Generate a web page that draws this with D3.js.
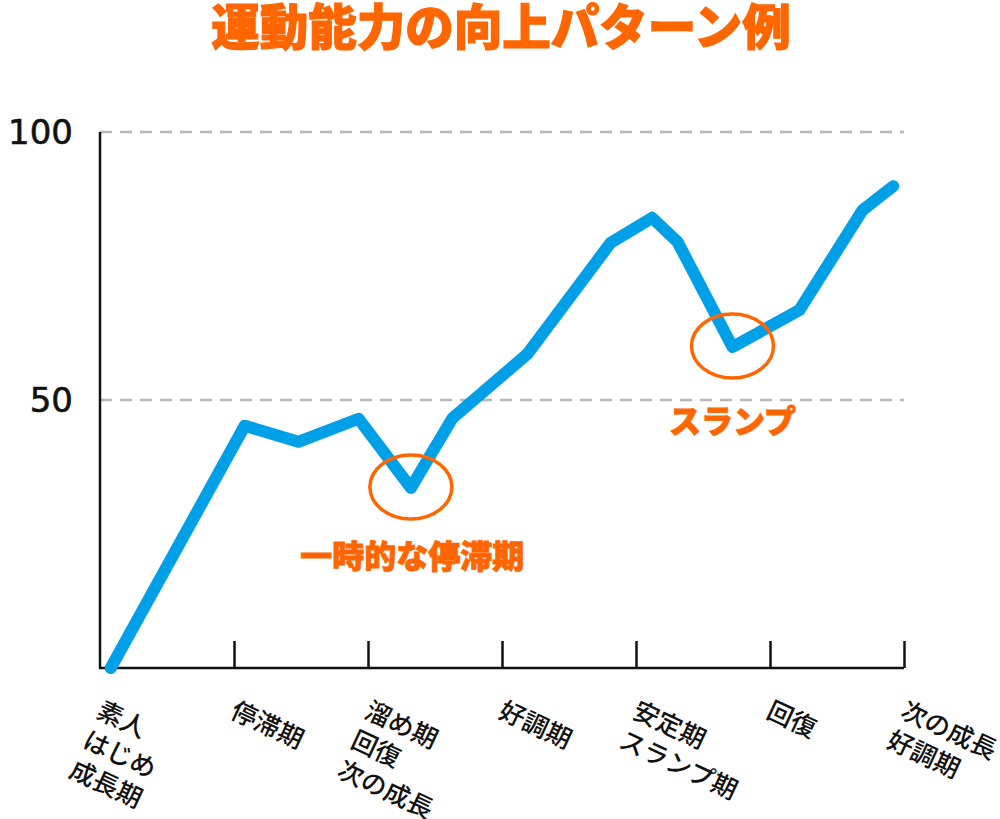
<!DOCTYPE html>
<html>
<head>
<meta charset="utf-8">
<script src="https://cdn.jsdelivr.net/npm/d3@7"></script>
<style>
  html, body { margin: 0; padding: 0; background: #ffffff; }
  svg { display: block; }
</style>
</head>
<body>
<svg id="chart" width="1000" height="819"></svg>
<script>
// ---- data ----
const titleText = "運動能力の向上パターン例";
const categories = [
  ["素人", "はじめ", "成長期"],
  ["停滞期"],
  ["溜め期", "回復", "次の成長"],
  ["好調期"],
  ["安定期", "スランプ期"],
  ["回復"],
  ["次の成長", "好調期"]
];
// positions along the category axis (0 = first tick, 6 = last tick)
const pointPos = [0.08, 1.08, 1.48, 1.93, 2.32, 2.63, 3.19, 3.81, 4.12, 4.31, 4.72, 5.22, 5.69, 5.92];
const pointVal = [0, 45.2, 42.2, 46.5, 33.6, 46.6, 58.6, 79.3, 84.0, 79.5, 59.9, 66.8, 85.4, 89.9];
const yTicks = [50, 100];
const annotations = [
  { pointIndex: 4, text: "一時的な停滞期", labelPos: 2.33, labelVal: 18.6 },
  { pointIndex: 10, text: "スランプ", labelPos: 4.72, labelVal: 43.8 }
];

// ---- layout ----
const svg = d3.select("#chart");
const mLeft = 100, mRight = 904, mTop = 132, mBottom = 668;
const orange = "#FF6600";
const blue = "#00A0E9";

const x = d3.scaleLinear().domain([0, 6]).range([mLeft, mRight]);
const y = d3.scaleLinear().domain([0, 100]).range([mBottom, mTop]);

// title
svg.append("text")
  .attr("x", 501).attr("y", 45)
  .attr("text-anchor", "middle")
  .attr("font-family", "'Noto Sans CJK JP', sans-serif")
  .attr("font-weight", 900)
  .attr("font-size", 48.5)
  .attr("fill", orange)
  .attr("stroke", orange).attr("stroke-width", 1.2)
  .text(titleText);

// gridlines
svg.append("g").selectAll("line").data(yTicks).join("line")
  .attr("x1", mLeft).attr("x2", mRight)
  .attr("y1", d => y(d)).attr("y2", d => y(d))
  .attr("stroke", "#b5b5b5").attr("stroke-width", 2.5)
  .attr("stroke-dasharray", "12,8");

// y tick labels
svg.append("g").selectAll("text").data(yTicks).join("text")
  .attr("x", 73).attr("y", d => y(d) + 12)
  .attr("text-anchor", "end")
  .attr("font-family", "'DejaVu Sans', sans-serif")
  .attr("font-size", 34)
  .attr("fill", "#111")
  .attr("stroke", "#111").attr("stroke-width", 0.6)
  .text(d => d);

// axes
const xAxis = d3.axisBottom(x).tickValues(d3.range(1, categories.length)).tickSize(-27).tickFormat("");
const gx = svg.append("g").attr("transform", `translate(0,${mBottom})`).call(xAxis);
gx.select(".domain").remove();
gx.selectAll(".tick line").attr("stroke", "#111").attr("stroke-width", 2.5);
svg.append("path")
  .attr("d", d3.line()([[x(0), y(100)], [x(0), y(0)], [x(6), y(0)]]))
  .attr("fill", "none").attr("stroke", "#111").attr("stroke-width", 2.5);

// x category labels (rotated)
const labelG = svg.append("g");
categories.forEach((lines, i) => {
  const t = labelG.append("text")
    .attr("transform", `translate(${x(i) - 5},${mBottom + 49}) rotate(25)`)
    .attr("font-family", "'Noto Sans CJK JP', sans-serif")
    .attr("font-size", 25.5)
    .attr("font-weight", 500)
    .attr("fill", "#111");
  lines.forEach((ln, k) => {
    t.append("tspan").attr("x", 0).attr("dy", k === 0 ? 0 : "1.28em").text(ln);
  });
});

// data line
const line = d3.line().x((d, i) => x(pointPos[i])).y(d => y(d)).curve(d3.curveLinear);
svg.append("path")
  .datum(pointVal)
  .attr("d", line)
  .attr("fill", "none")
  .attr("stroke", blue)
  .attr("stroke-width", 12)
  .attr("stroke-linejoin", "round")
  .attr("stroke-linecap", "round");

// annotations
annotations.forEach(a => {
  svg.append("ellipse")
    .attr("cx", x(pointPos[a.pointIndex]))
    .attr("cy", y(pointVal[a.pointIndex]) - 1)
    .attr("rx", 41).attr("ry", 32)
    .attr("fill", "none").attr("stroke", orange).attr("stroke-width", 3.5);
  svg.append("text")
    .attr("x", x(a.labelPos)).attr("y", y(a.labelVal))
    .attr("text-anchor", "middle")
    .attr("font-family", "'Noto Sans CJK JP', sans-serif")
    .attr("font-weight", 900)
    .attr("font-size", 32)
    .attr("fill", orange)
    .attr("stroke", orange).attr("stroke-width", 0.9)
    .text(a.text);
});
</script>
</body>
</html>
